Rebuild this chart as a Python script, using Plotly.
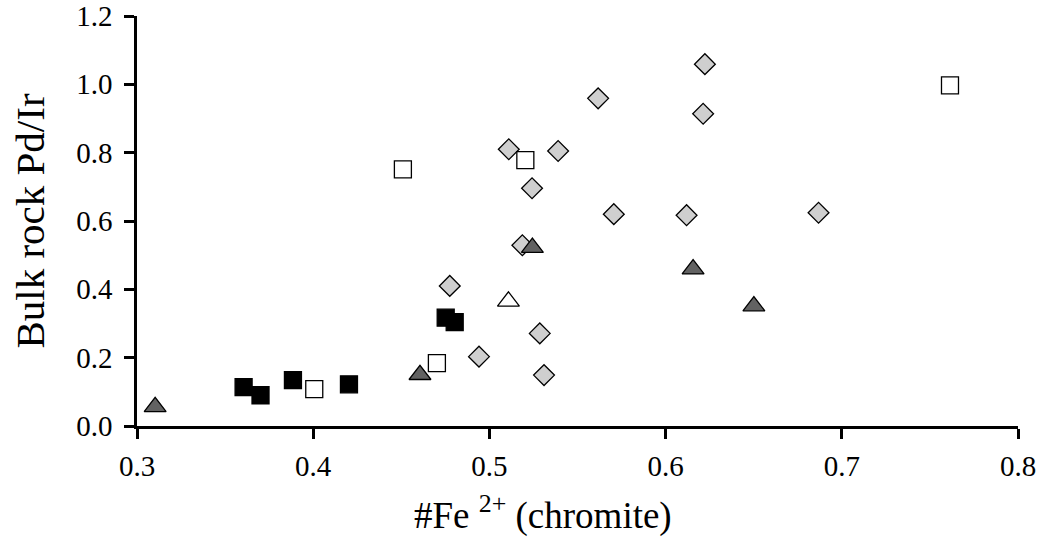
import plotly.graph_objects as go

# Gray diamonds
dia_x = [0.4775, 0.5110, 0.5390, 0.5242, 0.5187, 0.5286, 0.6223, 0.5617, 0.6213,
         0.5706, 0.6119, 0.6868, 0.4941, 0.5310]
dia_y = [0.410, 0.810, 0.805, 0.696, 0.529, 0.271, 1.059, 0.959, 0.914,
         0.620, 0.617, 0.624, 0.203, 0.149]

# Black squares
bsq_x = [0.3605, 0.3701, 0.3885, 0.4203, 0.4752, 0.4803]
bsq_y = [0.114, 0.090, 0.134, 0.122, 0.317, 0.304]

# Open squares
osq_x = [0.4006, 0.4702, 0.4509, 0.5204, 0.7614]
osq_y = [0.108, 0.184, 0.751, 0.778, 0.997]

# Dark gray triangles
gtri_x = [0.3103, 0.4606, 0.5244, 0.6156, 0.6501]
gtri_y = [0.056, 0.150, 0.522, 0.459, 0.351]

# Open triangle
otri_x = [0.5108]
otri_y = [0.365]

x_ticks = [0.3, 0.4, 0.5, 0.6, 0.7, 0.8]
y_ticks = [0.0, 0.2, 0.4, 0.6, 0.8, 1.0, 1.2]

x_title = "#Fe <sup>2+</sup> (chromite)"
y_title = "Bulk rock Pd/Ir"

FONT = "Liberation Serif"
LINE = dict(color="black", width=1.3)

fig = go.Figure()
fig.add_trace(go.Scatter(x=dia_x, y=dia_y, mode="markers",
                         marker=dict(symbol="diamond", size=16, color="#cfcfcf", line=LINE)))
fig.add_trace(go.Scatter(x=bsq_x, y=bsq_y, mode="markers",
                         marker=dict(symbol="square", size=17, color="black", line=LINE)))
fig.add_trace(go.Scatter(x=osq_x, y=osq_y, mode="markers",
                         marker=dict(symbol="square", size=17, color="white", line=LINE)))
fig.add_trace(go.Scatter(x=gtri_x, y=gtri_y, mode="markers",
                         marker=dict(symbol="triangle-up", size=19, color="#626262", line=LINE)))
fig.add_trace(go.Scatter(x=otri_x, y=otri_y, mode="markers",
                         marker=dict(symbol="triangle-up", size=19, color="white", line=LINE)))

fig.update_layout(
    width=1042, height=537,
    margin=dict(l=137, r=24, t=16, b=111, autoexpand=False),
    paper_bgcolor="white", plot_bgcolor="white",
    showlegend=False,
    font=dict(family=FONT, color="black", size=29),
    annotations=[dict(text=x_title, xref="paper", yref="paper", x=0.461, y=-0.212,
                      xanchor="center", yanchor="middle", showarrow=False,
                      font=dict(family=FONT, size=37))],
)
fig.update_xaxes(range=[0.3, 0.8], tickvals=x_ticks, tickformat=".1f", automargin=False,
                 showgrid=False, zeroline=False, showline=True, linecolor="black", linewidth=2.5,
                 ticks="outside", ticklen=10, tickwidth=2.5, tickcolor="black",
                 tickfont=dict(family=FONT, size=29), ticklabelstandoff=2)
fig.update_yaxes(range=[0, 1.2], tickvals=y_ticks, tickformat=".1f", automargin=False,
                 showgrid=False, zeroline=False, showline=True, linecolor="black", linewidth=2.5,
                 ticks="outside", ticklen=10, tickwidth=2.5, tickcolor="black",
                 tickfont=dict(family=FONT, size=29), ticklabelstandoff=6,
                 title=dict(text=y_title, font=dict(family=FONT, size=41), standoff=19))

fig.write_html("out.html")
